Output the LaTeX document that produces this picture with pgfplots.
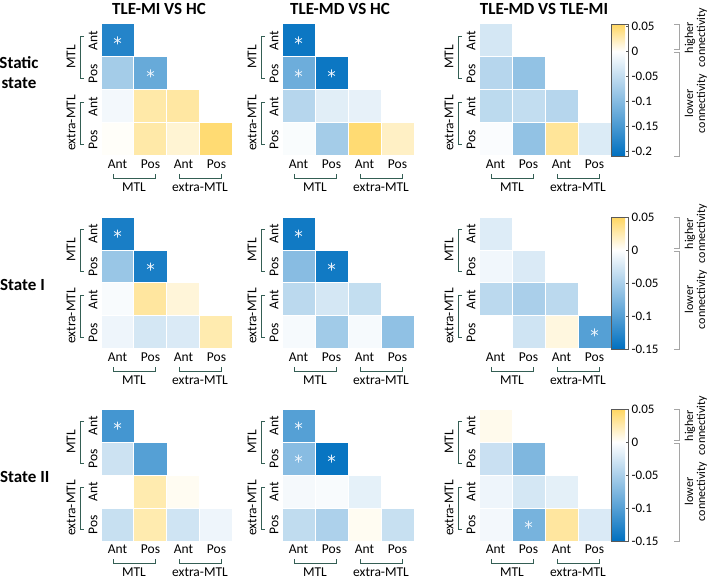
\documentclass[border=0pt]{standalone}
\usepackage{pgfplots}
\pgfplotsset{compat=1.18}
\usepackage{pgfplotstable}
\usepackage{fontspec}
\setmainfont{Carlito}

\definecolor{brk}{RGB}{52,94,84}
\definecolor{cbgray}{RGB}{165,165,165}

\newcommand\lab{\fontsize{13.5}{15}\selectfont}
\newcommand\ttl{\fontsize{17}{20}\selectfont\bfseries}
\newcommand\cbt{\fontsize{13}{14}\selectfont}
\newcommand\cbl{\fontsize{12}{12}\selectfont}

% diverging maps: blue -> white at 0 -> yellow
\pgfplotsset{
  colormap={cmA}{rgb255(0cm)=(0,112,192) rgb255(21cm)=(255,255,255) rgb255(26.5cm)=(255,214,95)},
  colormap={cmB}{rgb255(0cm)=(0,112,192) rgb255(15cm)=(255,255,255) rgb255(20cm)=(255,214,95)},
  heat/.style={
    scale only axis, width=132pt, height=132pt, anchor=north west,
    xmin=-0.5, xmax=3.5, ymin=-0.5, ymax=3.5, y dir=reverse,
    axis line style={draw=none}, tick style={draw=none}, major tick length=0pt,
    xtick={0,1,2,3}, ytick={0,1,2,3},
    xticklabels={Ant,Pos,Ant,Pos}, yticklabels={Ant,Pos,Ant,Pos},
    ticklabel style={font=\lab},
    yticklabel style={rotate=90, anchor=south},
    clip=false,
  },
  heatcells/.style={scatter, only marks, mark=square*, mark size=16.5pt,
    point meta=\thisrow{v}, scatter/use mapped color={draw=white, fill=mapped color},
    mark options={line width=1pt}},
  heatstars/.style={only marks, mark=asterisk, mark size=4pt, point meta=none,
    mark options={draw={rgb,255:red,232;green,242;blue,252}, line width=0.8pt}},
  cb/.style={colorbar, colorbar style={
    at={(1,1)}, anchor=north west, xshift=13pt,
    scale only axis, width=17pt, height=132pt,
    axis line style={draw=black!65, line width=0.6pt},
    ytick pos=right, yticklabel pos=right, tick align=inside,
    major tick length=2.5pt, tick style={black!65},
    yticklabel style={font=\cbt}}},
  rowA/.style={colormap name=cmA, point meta min=-0.21, point meta max=0.055,
    colorbar style={ytick={-0.2,-0.15,-0.1,-0.05,0,0.05},
      yticklabels={-0.2,-0.15,-0.1,-0.05,0,0.05}}},
  rowB/.style={colormap name=cmB, point meta min=-0.15, point meta max=0.05,
    colorbar style={ytick={-0.15,-0.1,-0.05,0,0.05},
      yticklabels={-0.15,-0.1,-0.05,0,0.05}}},
}

% x = column, y = row (lower triangle only)
\pgfplotstableread{
x y v
0 0 -0.18
0 1 -0.075
1 1 -0.125
0 2 -0.01
1 2 0.03
2 2 0.032
0 3 0.002
1 3 0.03
2 3 0.015
3 3 0.048
}\staticMI
\pgfplotstableread{
x y v
0 0 -0.20
0 1 -0.12
1 1 -0.20
0 2 -0.06
1 2 -0.025
2 2 -0.02
0 3 -0.005
1 3 -0.075
2 3 0.048
3 3 0.02
}\staticMD
\pgfplotstableread{
x y v
0 0 -0.035
0 1 -0.06
1 1 -0.09
0 2 -0.055
1 2 -0.05
2 2 -0.06
0 3 -0.004
1 3 -0.09
2 3 0.035
3 3 -0.03
}\staticDI
\pgfplotstableread{
x y v
0 0 -0.135
0 1 -0.06
1 1 -0.135
0 2 -0.004
1 2 0.03
2 2 0.012
0 3 -0.01
1 3 -0.025
2 3 -0.022
3 3 0.025
}\oneMI
\pgfplotstableread{
x y v
0 0 -0.14
0 1 -0.07
1 1 -0.14
0 2 -0.04
1 2 -0.025
2 2 -0.035
0 3 -0.005
1 3 -0.055
2 3 -0.005
3 3 -0.065
}\oneMD
\pgfplotstableread{
x y v
0 0 -0.02
0 1 -0.008
1 1 -0.022
0 2 -0.04
1 2 -0.05
2 2 -0.04
0 3 0
1 3 -0.028
2 3 0.01
3 3 -0.10
}\oneDI
\pgfplotstableread{
x y v
0 0 -0.11
0 1 -0.03
1 1 -0.10
0 2 0
1 2 0.025
2 2 0.004
0 3 -0.033
1 3 0.025
2 3 -0.028
3 3 -0.01
}\twoMI
\pgfplotstableread{
x y v
0 0 -0.10
0 1 -0.07
1 1 -0.145
0 2 -0.006
1 2 -0.004
2 2 -0.015
0 3 -0.037
1 3 -0.048
2 3 0.004
3 3 -0.033
}\twoMD
\pgfplotstableread{
x y v
0 0 0.006
0 1 -0.032
1 1 -0.075
0 2 -0.01
1 2 -0.025
2 2 -0.016
0 3 -0.007
1 3 -0.08
2 3 0.03
3 3 -0.022
}\twoDI

% group brackets round one heat map, #1 = left edge, #2 = top edge (px)
\newcommand\groups[2]{%
  \draw[brk, line width=0.9pt] (#1+12,#2+150) -- (#1+12,#2+154) -- (#1+54,#2+154) -- (#1+54,#2+150);
  \draw[brk, line width=0.9pt] (#1+78,#2+150) -- (#1+78,#2+154) -- (#1+120,#2+154) -- (#1+120,#2+150);
  \node[font=\lab, inner sep=0pt] at (#1+33,#2+163) {MTL};
  \node[font=\lab, inner sep=0pt] at (#1+99,#2+163) {extra-MTL};
  \draw[brk, line width=0.9pt] (#1-17,#2+12) -- (#1-21,#2+12) -- (#1-21,#2+54) -- (#1-17,#2+54);
  \draw[brk, line width=0.9pt] (#1-17,#2+78) -- (#1-21,#2+78) -- (#1-21,#2+120) -- (#1-17,#2+120);
  \node[font=\lab, rotate=90] at (#1-30,#2+33) {MTL};
  \node[font=\lab, rotate=90] at (#1-30,#2+99) {extra-MTL};
}
% colour bar brackets, #1 = top edge, #2 = distance of 0 from top
\newcommand\cbnotes[2]{%
  \draw[cbgray, line width=0.8pt] (674,#1) -- (679,#1) -- (679,#1+#2-2) -- (674,#1+#2-2);
  \draw[cbgray, line width=0.8pt] (674,#1+#2+1) -- (679,#1+#2+1) -- (679,#1+132) -- (674,#1+132);
  \node[font=\cbl, rotate=90, align=center] at (696,#1+#2/2) {higher\\connectivity};
  \node[font=\cbl, rotate=90, align=center] at (696,#1+#2/2+66) {lower\\connectivity};
}

\begin{document}
\begin{tikzpicture}
\useasboundingbox (0pt,0pt) rectangle (709pt,-580pt);

% ---- static state
\begin{axis}[heat, rowA, at={(101pt,-24pt)}]
  \addplot[heatcells] table {\staticMI};
  \addplot[heatstars] coordinates {(0,0) (1,1)};
\end{axis}
\begin{axis}[heat, rowA, at={(282pt,-24pt)}]
  \addplot[heatcells] table {\staticMD};
  \addplot[heatstars] coordinates {(0,0) (0,1) (1,1)};
\end{axis}
\begin{axis}[heat, rowA, cb, at={(479pt,-24pt)}]
  \addplot[heatcells] table {\staticDI};
\end{axis}

% ---- state I
\begin{axis}[heat, rowB, at={(101pt,-217pt)}]
  \addplot[heatcells] table {\oneMI};
  \addplot[heatstars] coordinates {(0,0) (1,1)};
\end{axis}
\begin{axis}[heat, rowB, at={(282pt,-217pt)}]
  \addplot[heatcells] table {\oneMD};
  \addplot[heatstars] coordinates {(0,0) (1,1)};
\end{axis}
\begin{axis}[heat, rowB, cb, at={(479pt,-217pt)}]
  \addplot[heatcells] table {\oneDI};
  \addplot[heatstars] coordinates {(3,3)};
\end{axis}

% ---- state II
\begin{axis}[heat, rowB, at={(101pt,-409pt)}]
  \addplot[heatcells] table {\twoMI};
  \addplot[heatstars] coordinates {(0,0)};
\end{axis}
\begin{axis}[heat, rowB, at={(282pt,-409pt)}]
  \addplot[heatcells] table {\twoMD};
  \addplot[heatstars] coordinates {(0,0) (0,1) (1,1)};
\end{axis}
\begin{axis}[heat, rowB, cb, at={(479pt,-409pt)}]
  \addplot[heatcells] table {\twoDI};
  \addplot[heatstars] coordinates {(1,3)};
\end{axis}

\begin{scope}[x=1pt, y=-1pt]
  \node[font=\ttl] at (159,9) {TLE-MI VS HC};
  \node[font=\ttl] at (340,9) {TLE-MD VS HC};
  \node[font=\ttl] at (544,9) {TLE-MD VS TLE-MI};
  \node[font=\ttl, align=center] at (19,73) {Static\\state};
  \node[font=\ttl, anchor=west, inner sep=0pt] at (0,285) {State I};
  \node[font=\ttl, anchor=west, inner sep=0pt] at (0,477) {State II};
  \foreach \t in {24,217,409} {
    \groups{101}{\t}
    \groups{282}{\t}
    \groups{479}{\t}
  }
  \cbnotes{24}{27}
  \cbnotes{217}{33}
  \cbnotes{409}{33}
\end{scope}
\end{tikzpicture}
\end{document}
